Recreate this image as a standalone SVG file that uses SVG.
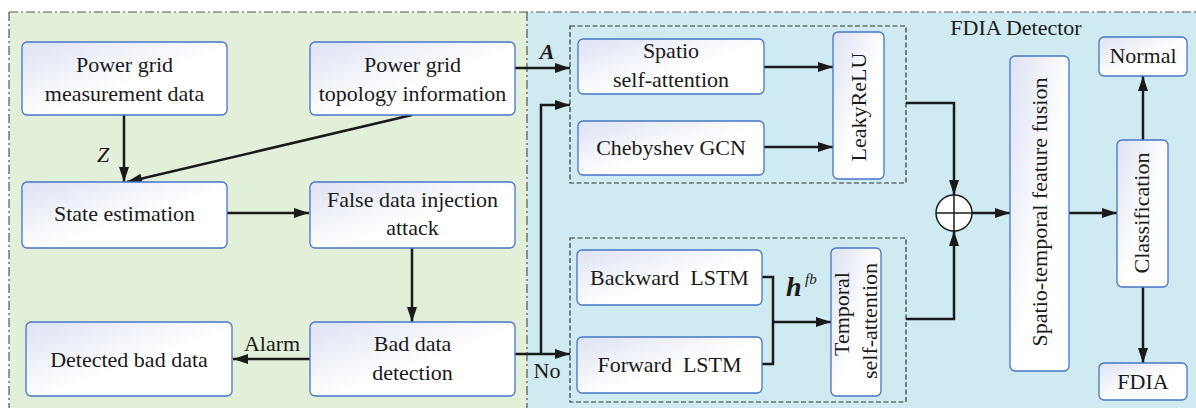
<svg xmlns="http://www.w3.org/2000/svg" width="1196" height="408" viewBox="0 0 1196 408">
<defs>
<linearGradient id="bg" x1="0" y1="0" x2="1" y2="1">
<stop offset="0" stop-color="#dde2f3"/>
<stop offset="0.55" stop-color="#ffffff"/>
<stop offset="1" stop-color="#ffffff"/>
</linearGradient>
<marker id="ah" markerUnits="userSpaceOnUse" markerWidth="16" markerHeight="12" refX="15" refY="5" orient="auto">
<path d="M0,0 L15,5 L0,10 z" fill="#1a1a1a"/>
</marker>
<style>
.box{fill:url(#bg);stroke:#4675c6;stroke-width:1.3}
.lbl{font-family:'Liberation Serif',serif;font-size:22px;fill:#1a1a1a;text-anchor:middle}
.c{fill:none;stroke:#1a1a1a;stroke-width:2.5}
.a{marker-end:url(#ah)}
.dash{fill:none;stroke:#333;stroke-width:1.2;stroke-dasharray:5 2.5}
.dd{fill:none;stroke:#555;stroke-width:1.2;stroke-dasharray:9 3 2 3}
</style>
</defs>
<g id="background">
<rect x="9" y="12" width="518" height="396" fill="#e2efd9"/>
<rect x="527" y="12" width="669" height="396" fill="#cfebf1"/>
<line class="dd" x1="9" y1="12" x2="1196" y2="12"/>
<line class="dd" x1="9" y1="12" x2="9" y2="408"/>
<line class="dd" x1="527" y1="12" x2="527" y2="408"/>
<rect class="dash" x="570" y="26" width="336" height="157"/>
<rect class="dash" x="570" y="238" width="336" height="164"/>
<text class="lbl" x="1016" y="35">FDIA Detector</text>
</g>
<g id="connectors">
<line class="c a" x1="124" y1="115" x2="124" y2="182"/>
<line class="c a" x1="412" y1="115" x2="127" y2="182"/>
<line class="c a" x1="227" y1="213" x2="309" y2="213"/>
<line class="c a" x1="412" y1="248" x2="412" y2="322"/>
<line class="c a" x1="310" y1="359" x2="233" y2="359"/>
<line class="c a" x1="515" y1="68" x2="570" y2="68"/>
<line class="c a" x1="515" y1="354" x2="570" y2="354"/>
<polyline class="c a" points="541,354 541,105 570,105"/>
<line class="c a" x1="764" y1="67" x2="833" y2="67"/>
<line class="c a" x1="764" y1="147" x2="833" y2="147"/>
<polyline class="c" points="762,277 773,277 773,364 762,364"/>
<line class="c a" x1="773" y1="322" x2="831" y2="322"/>
<polyline class="c a" points="906,103 954,103 954,195"/>
<polyline class="c a" points="906,319 954,319 954,231"/>
<line class="c a" x1="972" y1="213" x2="1010" y2="213"/>
<line class="c a" x1="1069" y1="213" x2="1117" y2="213"/>
<line class="c a" x1="1143" y1="140" x2="1143" y2="76"/>
<line class="c a" x1="1143" y1="287" x2="1143" y2="363"/>
<text class="lbl" x="103" y="162" font-style="italic">Z</text>
<text class="lbl" x="547" y="59" font-style="italic" font-weight="bold">A</text>
<text class="lbl" x="272" y="351">Alarm</text>
<text class="lbl" x="547" y="378">No</text>
<text x="786" y="296" font-family="Liberation Serif, serif" font-size="28" font-style="italic" font-weight="bold" fill="#1a1a1a">h</text>
<text x="805" y="284" font-family="Liberation Serif, serif" font-size="15" font-style="italic" fill="#1a1a1a">fb</text>
</g>
<g id="n_meas"><rect class="box" x="22" y="42" width="205" height="73" rx="5"/><text class="lbl" x="124.5" y="72">Power grid</text><text class="lbl" x="124.5" y="101">measurement data</text></g>
<g id="n_topo"><rect class="box" x="310" y="42" width="205" height="73" rx="5"/><text class="lbl" x="412.5" y="72">Power grid</text><text class="lbl" x="412.5" y="101">topology information</text></g>
<g id="n_state"><rect class="box" x="22" y="182" width="205" height="66" rx="5"/><text class="lbl" x="124.5" y="221">State estimation</text></g>
<g id="n_fdi"><rect class="box" x="310" y="182" width="205" height="66" rx="5"/><text class="lbl" x="412.5" y="207">False data injection</text><text class="lbl" x="412.5" y="235">attack</text></g>
<g id="n_detected"><rect class="box" x="26" y="322" width="206" height="74" rx="5"/><text class="lbl" x="129" y="367">Detected bad data</text></g>
<g id="n_bdd"><rect class="box" x="310" y="322" width="205" height="74" rx="5"/><text class="lbl" x="412.5" y="351">Bad data</text><text class="lbl" x="412.5" y="380">detection</text></g>
<g id="n_spatio"><rect class="box" x="578" y="39" width="186" height="55" rx="5"/><text class="lbl" x="671" y="58">Spatio</text><text class="lbl" x="671" y="87">self-attention</text></g>
<g id="n_cheb"><rect class="box" x="578" y="121" width="186" height="54" rx="5"/><text class="lbl" x="671" y="155">Chebyshev GCN</text></g>
<g id="n_leaky"><rect class="box" x="833" y="32" width="51" height="147" rx="5"/><text class="lbl" x="866" y="107" transform="rotate(-90 866 107)">LeakyReLU</text></g>
<g id="n_back"><rect class="box" x="577" y="250" width="185" height="55" rx="5"/><text class="lbl" x="669.5" y="285" xml:space="preserve">Backward  LSTM</text></g>
<g id="n_fwd"><rect class="box" x="577" y="337" width="185" height="56" rx="5"/><text class="lbl" x="669.5" y="372" xml:space="preserve">Forward  LSTM</text></g>
<g id="n_temp"><rect class="box" x="831" y="248" width="50" height="148" rx="5"/><text class="lbl" x="849" y="314" transform="rotate(-90 849 314)">Temporal</text><text class="lbl" x="877" y="321" transform="rotate(-90 877 321)">self-attention</text></g>
<g id="n_sum"><circle cx="954" cy="213" r="18" fill="#fff" stroke="#1a1a1a" stroke-width="1.5"/><line x1="936" y1="213" x2="972" y2="213" stroke="#1a1a1a" stroke-width="1.5"/><line x1="954" y1="195" x2="954" y2="231" stroke="#1a1a1a" stroke-width="1.5"/></g>
<g id="n_fusion"><rect class="box" x="1010" y="56" width="59" height="315" rx="5"/><text class="lbl" x="1047" y="212" transform="rotate(-90 1047 212)">Spatio-temporal feature fusion</text></g>
<g id="n_class"><rect class="box" x="1117" y="140" width="51" height="147" rx="5"/><text class="lbl" x="1149" y="213" transform="rotate(-90 1149 213)">Classification</text></g>
<g id="n_normal"><rect class="box" x="1099" y="37" width="88" height="39" rx="5"/><text class="lbl" x="1143" y="63">Normal</text></g>
<g id="n_fdia"><rect class="box" x="1099" y="363" width="88" height="37" rx="5"/><text class="lbl" x="1143" y="389">FDIA</text></g>
</svg>
